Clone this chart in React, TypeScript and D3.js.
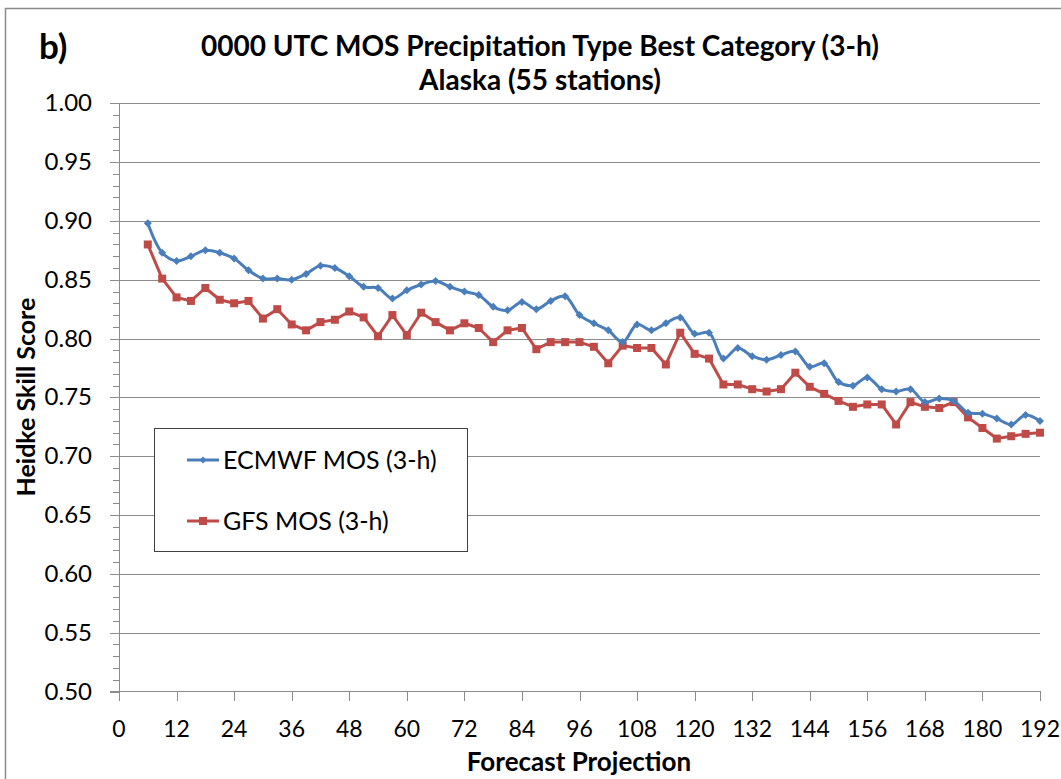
import React from "react";
import * as d3 from "d3";

const hours: number[] = d3.range(6, 193, 3);
const ecmwf: number[] = [
  0.898, 0.873, 0.866, 0.870, 0.875, 0.873, 0.868, 0.858, 0.851, 0.851,
  0.850, 0.855, 0.862, 0.860, 0.853, 0.844, 0.843, 0.834, 0.841, 0.846,
  0.849, 0.844, 0.840, 0.837, 0.827, 0.824, 0.831, 0.825, 0.832, 0.836,
  0.820, 0.813, 0.807, 0.797, 0.812, 0.807, 0.813, 0.818, 0.804, 0.805,
  0.783, 0.792, 0.785, 0.782, 0.786, 0.789, 0.776, 0.779, 0.763, 0.760,
  0.767, 0.757, 0.755, 0.757, 0.746, 0.749, 0.747, 0.737, 0.736, 0.732,
  0.727, 0.735, 0.730,
];
const gfs: number[] = [
  0.880, 0.851, 0.835, 0.832, 0.843, 0.833, 0.830, 0.832, 0.817, 0.825,
  0.812, 0.807, 0.814, 0.816, 0.823, 0.818, 0.802, 0.820, 0.803, 0.822,
  0.814, 0.807, 0.813, 0.809, 0.797, 0.807, 0.809, 0.791, 0.797, 0.797,
  0.797, 0.793, 0.779, 0.794, 0.792, 0.792, 0.778, 0.805, 0.787, 0.783,
  0.761, 0.761, 0.757, 0.755, 0.757, 0.771, 0.759, 0.753, 0.747, 0.742,
  0.744, 0.744, 0.727, 0.746, 0.742, 0.741, 0.746, 0.733, 0.724, 0.715,
  0.717, 0.719, 0.720,
];
const xTicks: number[] = d3.range(0, 193, 12);
const yTicks: number[] = d3.range(0, 11).map((i) => +(0.5 + i * 0.05).toFixed(2));
const yMinor: number[] = d3.range(0, 51).map((i) => +(0.5 + i * 0.01).toFixed(2));
const seriesNames = ["ECMWF MOS (3-h)", "GFS MOS (3-h)"];
const titleLines = ["0000 UTC MOS Precipitation Type Best Category (3-h)", "Alaska (55 stations)"];

const BLUE = "#4a7ebb";
const RED = "#be4b48";
const GRID = "#8c8c8c";
const FONT = "Lato, 'Open Sans', sans-serif";

export default function App() {
  const x = d3.scaleLinear().domain([0, 192]).range([119, 1040]);
  const y = d3.scaleLinear().domain([0.5, 1.0]).range([691.5, 103.3]);
  const blueLine = d3
    .line<number>()
    .x((_, i) => x(hours[i]))
    .y((d) => y(d))
    .curve(d3.curveCatmullRom.alpha(0.5));
  const redLine = d3
    .line<number>()
    .x((_, i) => x(hours[i]))
    .y((d) => y(d));
  const diamond = (cx: number, cy: number, r: number) =>
    `M${cx},${cy - r}L${cx + r},${cy}L${cx},${cy + r}L${cx - r},${cy}Z`;

  return (
    <svg
      width={1061}
      height={779}
      style={{ position: "absolute", left: 0, top: 0, background: "#fff" }}
      fontFamily={FONT}
    >
      <rect x={0} y={0} width={1061} height={779} fill="#fff" />
      <rect x={5.5} y={8.5} width={1100} height={800} fill="none" stroke="#8a8a8a" strokeWidth={1.5} />
      <text x={39} y={59} fontSize={35} fontWeight="bold" fill="#000">b)</text>
      {titleLines.map((t, i) => (
        <text key={i} x={540} y={56 + i * 34} textAnchor="middle" fontSize={28} fontWeight="bold" fill="#000">
          {t}
        </text>
      ))}
      {/* gridlines */}
      {yTicks.slice(1).map((v) => (
        <line key={v} x1={119} x2={1040} y1={Math.round(y(v)) + 0.5} y2={Math.round(y(v)) + 0.5} stroke={GRID} strokeWidth={1} />
      ))}
      {/* y axis */}
      <line x1={119.5} x2={119.5} y1={103} y2={692} stroke={GRID} />
      {yMinor.map((v) => (
        <line key={"m" + v} x1={113} x2={119} y1={Math.round(y(v)) + 0.5} y2={Math.round(y(v)) + 0.5} stroke={GRID} />
      ))}
      {yTicks.map((v) => (
        <g key={"t" + v}>
          <line x1={110} x2={119} y1={Math.round(y(v)) + 0.5} y2={Math.round(y(v)) + 0.5} stroke={GRID} />
          <text x={92} y={y(v) + 8} textAnchor="end" fontSize={24} fill="#000">
            {v.toFixed(2)}
          </text>
        </g>
      ))}
      {/* x axis */}
      <line x1={110} x2={1040} y1={691.5} y2={691.5} stroke={GRID} />
      {xTicks.map((v) => (
        <g key={"x" + v}>
          <line x1={Math.round(x(v)) + 0.5} x2={Math.round(x(v)) + 0.5} y1={691} y2={701} stroke={GRID} />
          <text x={x(v)} y={737} textAnchor="middle" fontSize={23} fill="#000">
            {v}
          </text>
        </g>
      ))}
      <text x={579} y={771} textAnchor="middle" fontSize={26} fontWeight="bold" fill="#000">
        Forecast Projection
      </text>
      <text
        transform="translate(35,397) rotate(-90)"
        textAnchor="middle"
        fontSize={25}
        fontWeight="bold"
        fill="#000"
      >
        Heidke Skill Score
      </text>
      {/* series */}
      <path d={redLine(gfs) || ""} fill="none" stroke={RED} strokeWidth={3} strokeLinejoin="round" />
      {gfs.map((v, i) => (
        <rect key={"g" + i} x={x(hours[i]) - 4} y={y(v) - 4} width={8} height={8} fill={RED} />
      ))}
      <path d={blueLine(ecmwf) || ""} fill="none" stroke={BLUE} strokeWidth={3} strokeLinejoin="round" />
      {ecmwf.map((v, i) => (
        <path key={"e" + i} d={diamond(x(hours[i]), y(v), 4)} fill={BLUE} />
      ))}
      {/* legend */}
      <rect x={154.5} y={428.5} width={313} height={123} fill="#fff" stroke="#404040" strokeWidth={1} />
      <line x1={187} x2={219} y1={460} y2={460} stroke={BLUE} strokeWidth={3} />
      <path d={diamond(203, 460, 3.5)} fill={BLUE} />
      <text x={223} y={469} fontSize={25} fill="#000">{seriesNames[0]}</text>
      <line x1={187} x2={219} y1={521} y2={521} stroke={RED} strokeWidth={3} />
      <rect x={199} y={517} width={8} height={8} fill={RED} />
      <text x={223} y={530} fontSize={25} fill="#000">{seriesNames[1]}</text>
    </svg>
  );
}
